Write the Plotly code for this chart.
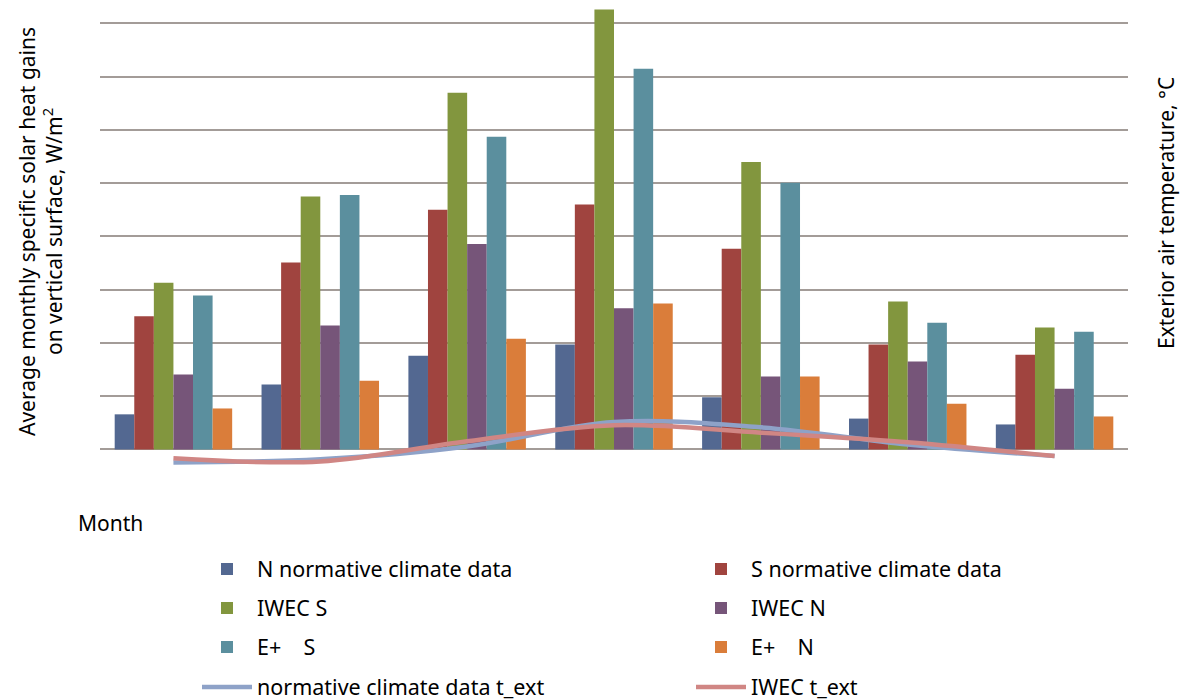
import plotly.graph_objects as go

months = ["1", "2", "3", "4", "5", "6", "7"]

n_normative = [6.6, 12.2, 17.6, 19.7, 9.8, 5.8, 4.7]
s_normative = [25.0, 35.1, 45.0, 46.0, 37.7, 19.7, 17.8]
iwec_s = [31.3, 47.5, 67.0, 82.6, 54.0, 27.8, 22.9]
iwec_n = [14.1, 23.3, 38.6, 26.5, 13.7, 16.5, 11.4]
eplus_s = [28.9, 47.8, 58.7, 71.5, 50.1, 23.8, 22.1]
eplus_n = [7.7, 12.9, 20.8, 27.4, 13.7, 8.6, 6.2]

t_ext_normative = [-1.2, -0.9, 0.3, 2.6, 2.1, 0.5, -0.6]
t_ext_iwec = [-0.8, -1.1, 0.8, 2.3, 1.6, 0.7, -0.6]

FONT = "Noto Sans"
bar_series = [
    ("N normative climate data", n_normative, "#536891"),
    ("S normative climate data", s_normative, "#A0443F"),
    ("IWEC S", iwec_s, "#82963E"),
    ("IWEC N", iwec_n, "#765579"),
    ("E+    S", eplus_s, "#5B8F9E"),
    ("E+    N", eplus_n, "#DA7D3A"),
]
legend_ids = ["legend", "legend2", "legend3", "legend4",
              "legend5", "legend6", "legend7", "legend8"]

fig = go.Figure()
for i, (name, vals, col) in enumerate(bar_series):
    fig.add_trace(go.Bar(x=months, y=vals, name=name, marker_color=col,
                         marker_line_width=0, legend=legend_ids[i]))

fig.add_trace(go.Scatter(x=months, y=t_ext_normative, name="normative climate data t_ext",
                         mode="lines", line=dict(color="#8EA2C8", width=4.5, shape="spline"),
                         yaxis="y2", legend=legend_ids[6]))
fig.add_trace(go.Scatter(x=months, y=t_ext_iwec, name="IWEC t_ext",
                         mode="lines", line=dict(color="#D08684", width=4.5, shape="spline"),
                         yaxis="y2", legend=legend_ids[7]))

PLOT_L, PLOT_W, H_PLOT = 100.0, 1028.0, 503.0
def px_x(px):
    return (px - PLOT_L) / PLOT_W
def py(px):
    return (H_PLOT - px) / H_PLOT

row_y = [569, 608, 647, 687]
col_x = [197, 691]

def legend_box(idx):
    r, c = divmod(idx, 2)
    return dict(orientation="h", x=px_x(col_x[c]), xanchor="left", y=py(row_y[r]),
                yanchor="middle", font=dict(family=FONT, size=21.5, color="#000000"),
                bgcolor="rgba(0,0,0,0)", itemwidth=50, borderwidth=0)

layout_legends = {lid: legend_box(i) for i, lid in enumerate(legend_ids)}

fig.update_layout(
    width=1181, height=700,
    margin=dict(l=100, r=53, t=0, b=197, autoexpand=False),
    paper_bgcolor="white", plot_bgcolor="white",
    barmode="group", bargap=0.2, bargroupgap=0,
    font=dict(family=FONT, size=21, color="#000000"),
    xaxis=dict(showticklabels=False, showgrid=False, showline=False, ticks="",
               zeroline=False),
    yaxis=dict(range=[-10.05, 84.4], dtick=10, tick0=0, showticklabels=False,
               showgrid=True, gridcolor="#A39C98", gridwidth=2, zeroline=False,
               showline=False, ticks=""),
    yaxis2=dict(range=[-5, 42.2], overlaying="y", side="right", showgrid=False,
                showticklabels=False, zeroline=False, showline=False, ticks=""),
    showlegend=True,
    **layout_legends,
)

fig.add_annotation(text="Average monthly specific solar heat gains<br>on vertical surface, W/m<sup>2</sup>",
                   xref="paper", yref="paper", x=px_x(40), y=py(232),
                   textangle=-90, showarrow=False, xanchor="center", yanchor="middle",
                   font=dict(family=FONT, size=21, color="#000000"))
fig.add_annotation(text="Exterior air temperature, °C",
                   xref="paper", yref="paper", x=px_x(1166), y=py(213),
                   textangle=-90, showarrow=False, xanchor="center", yanchor="middle",
                   font=dict(family=FONT, size=21, color="#000000"))
fig.add_annotation(text="Month", xref="paper", yref="paper", x=px_x(76), y=py(523),
                   showarrow=False, xanchor="left", yanchor="middle",
                   font=dict(family=FONT, size=21, color="#000000"))

fig.write_html("out.html", config={"displayModeBar": False},
               post_script="document.body.style.margin='0px';document.body.style.overflow='hidden';")
